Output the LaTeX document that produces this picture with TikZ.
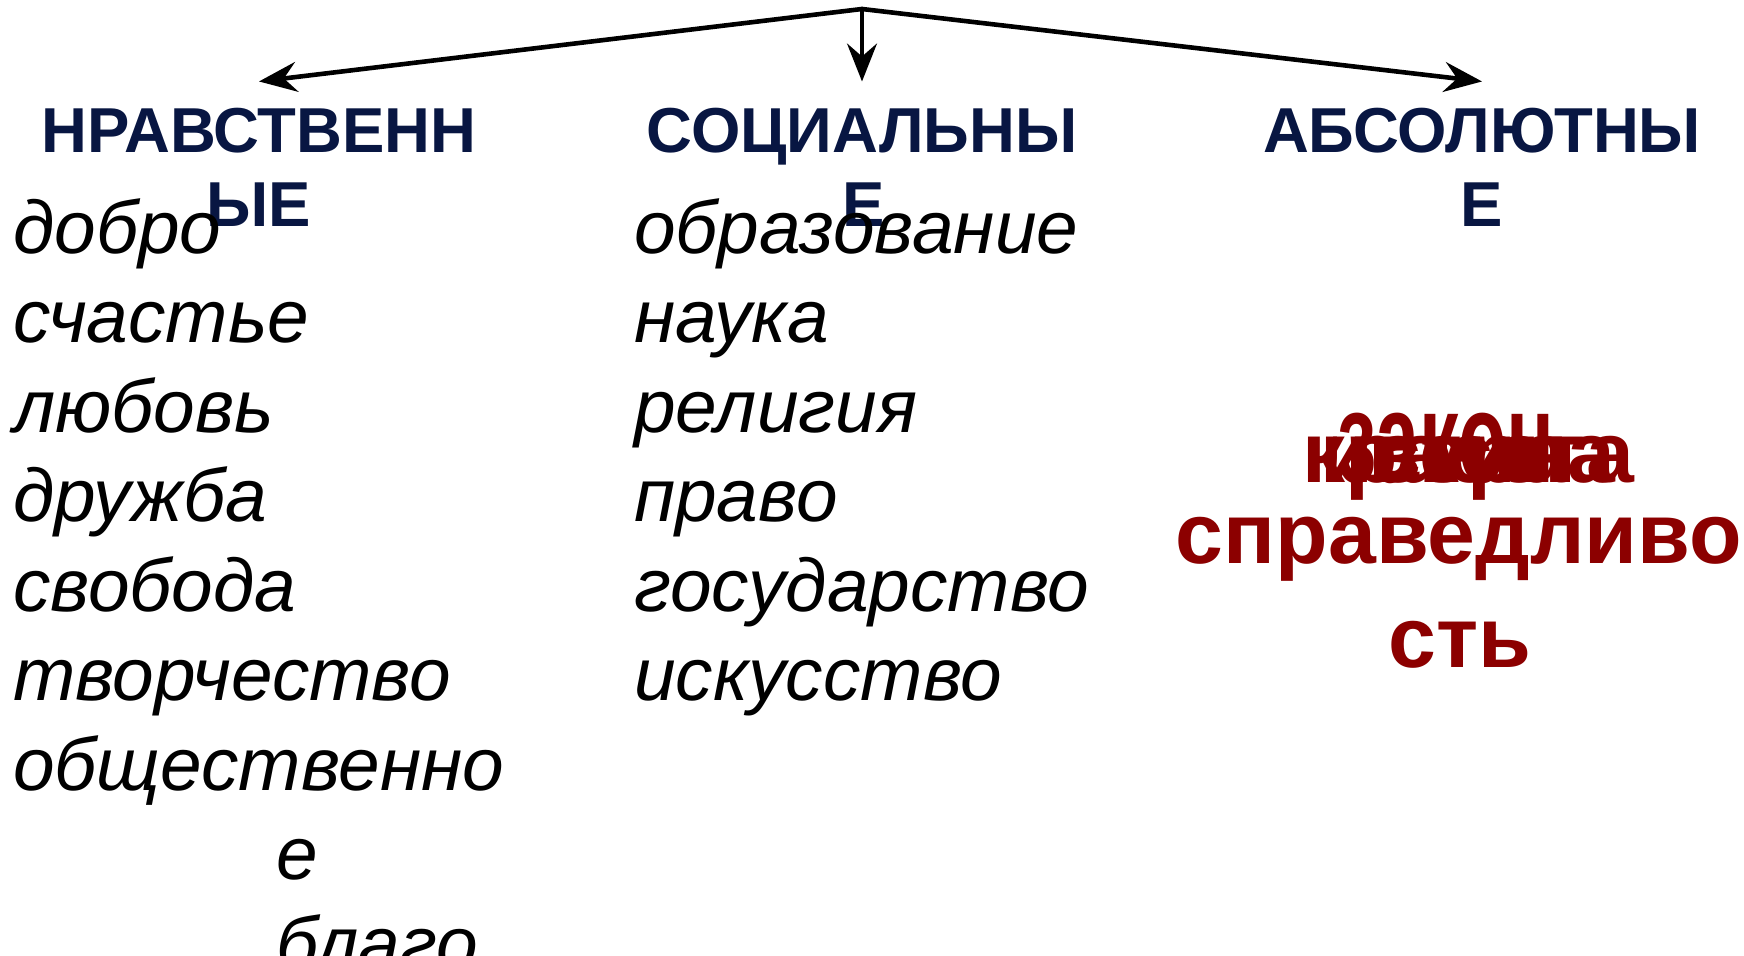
\documentclass[tikz,border=0pt]{standalone}
\usepackage{fontspec}
\setmainfont{Liberation Sans}
\usetikzlibrary{arrows.meta}
\definecolor{navy}{RGB}{8,22,66}
\definecolor{dred}{RGB}{140,0,0}
\begin{document}
\begin{tikzpicture}[x=1pt,y=-1pt,
  head/.style={font=\fontsize{63.5}{73}\selectfont\bfseries, text=navy, anchor=base, inner sep=0pt},
  item/.style={font=\fontsize{74.8}{89}\selectfont\itshape, anchor=base west, inner sep=0pt},
  absv/.style={font=\fontsize{86}{104}\selectfont\bfseries, text=dred, anchor=base, inner sep=0pt},
  arr/.style={-{Stealth[length=38pt,width=30pt,inset=13pt]}, line width=4.6pt, line cap=round}]
\fill[white] (0,0) rectangle (1744,955);
\useasboundingbox (0,0) rectangle (1744,955);
% headings
\node[head] (hA1) at (259,152) {НРАВСТВЕНН};
\node[head] (hA2) at (259,226) {ЫЕ};
\node[head] (hB1) at (862,152) {СОЦИАЛЬНЫ};
\node[head] (hB2) at (864,226) {Е};
\node[head] (hC1) at (1482,152) {АБСОЛЮТНЫ};
\node[head] (hC2) at (1482,226) {Е};
% arrows
\coordinate (apex) at (862,9);
\draw[arr] (apex) -- ([yshift=26pt]hA1.north);
\draw[arr] (apex) -- ([yshift=26pt]hC1.north);
\draw[arr, line width=3.4pt] (apex) -- ([yshift=26pt]hB1.north);
% column 1
\node[item] (a1) at (13,253) {добро};
\node[item] (a2) at (13,342.5) {счастье};
\node[item] (a3) at (13,432) {любовь};
\node[item] (a4) at (13,521.5) {дружба};
\node[item] (a5) at (13,611) {свобода};
\node[item] (a6) at (13,700.5) {творчество};
\node[item] (a7) at (13,790) {общественно};
\node[item] (a8) at (276,879.5) {е};
\node[item] (a9) at (276,969) {благо};
% column 2
\node[item] (b1) at (634,253) {образование};
\node[item] (b2) at (634,342.5) {наука};
\node[item] (b3) at (634,432) {религия};
\node[item] (b4) at (634,521.5) {право};
\node[item] (b5) at (634,611) {государство};
\node[item] (b6) at (634,700.5) {искусство};
% column 3 (overlapping words)
\node[absv] (c1) at (1468,482) {красота};
\node[absv] (c2) at (1468,482) {истина};
\node[absv] (c3) at (1468,482) {вера};
\node[absv] (c4) at (1446,482) {\scalebox{0.92}[1.5]{закон}};
\node[absv] (c5) at (1459,563) {справедливо};
\node[absv] (c6) at (1460,667) {сть};
\end{tikzpicture}
\end{document}
